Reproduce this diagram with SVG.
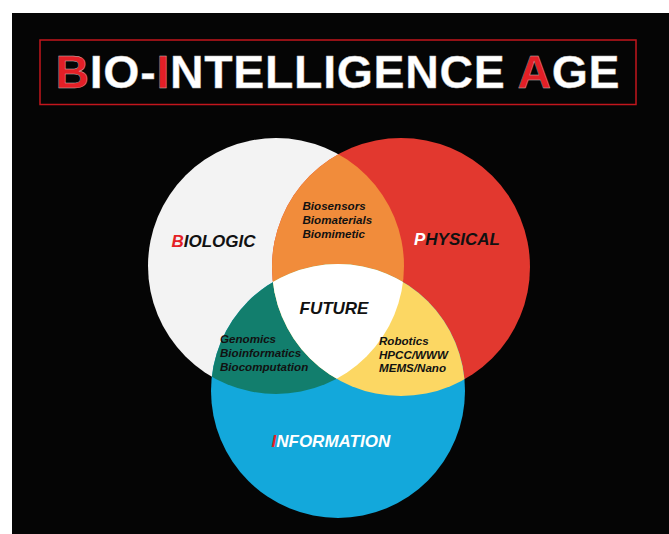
<svg xmlns="http://www.w3.org/2000/svg" width="669" height="534" viewBox="0 0 669 534">
  <defs>
    <clipPath id="clipBio"><circle cx="276" cy="266" r="128"/></clipPath>
    <clipPath id="clipPhy"><circle cx="401" cy="267" r="129"/></clipPath>
  </defs>
  <style>
    .t { font-family: "Liberation Sans", Arial, sans-serif; font-weight: bold; }
    .lbl { font-family: "Liberation Sans", Arial, sans-serif; font-weight: bold; font-style: italic; font-size: 17px; fill: #111111; }
    .sub { font-family: "Liberation Sans", Arial, sans-serif; font-weight: bold; font-style: italic; font-size: 11.6px; fill: #111111; }
    .red { fill: #e41f26; }
    .wht { fill: #ffffff; }
  </style>
  <rect x="0" y="0" width="669" height="534" fill="#ffffff"/>
  <rect x="12" y="13" width="657" height="521" fill="#050505"/>

  <g id="title">
    <rect x="40" y="40" width="596" height="64.5" fill="none" stroke="#c2161d" stroke-width="1.5"/>
    <text class="t" x="55.5" y="87.5" font-size="46.5" textLength="564" lengthAdjust="spacing" fill="#ffffff" stroke="#bbbbbb" stroke-width="0.4"><tspan class="red">B</tspan>IO-<tspan class="red">I</tspan>NTELLIGENCE <tspan class="red">A</tspan>GE</text>
  </g>

  <g id="biologic">
    <circle cx="276" cy="266" r="128" fill="#f3f3f3"/>
  </g>
  <g id="physical">
    <circle cx="401" cy="267" r="129" fill="#e2382f"/>
  </g>
  <g id="information">
    <circle cx="338" cy="391" r="127" fill="#13a8db"/>
  </g>
  <g id="bio-phy">
    <circle cx="401" cy="267" r="129" fill="#f18c3b" clip-path="url(#clipBio)"/>
  </g>
  <g id="bio-info">
    <circle cx="338" cy="391" r="127" fill="#127e6d" clip-path="url(#clipBio)"/>
  </g>
  <g id="phy-info">
    <circle cx="338" cy="391" r="127" fill="#fcd763" clip-path="url(#clipPhy)"/>
  </g>
  <g id="future">
    <g clip-path="url(#clipBio)">
      <circle cx="338" cy="391" r="127" fill="#ffffff" clip-path="url(#clipPhy)"/>
    </g>
  </g>

  <g id="labels">
    <text class="lbl" x="171.5" y="247.3"><tspan class="red">B</tspan>IOLOGIC</text>
    <text class="lbl" x="414" y="244.5"><tspan class="wht">P</tspan>HYSICAL</text>
    <text class="lbl" x="299.5" y="313.5">FUTURE</text>
    <text class="lbl" x="271.5" y="446.8"><tspan class="red">I</tspan><tspan class="wht">NFORMATION</tspan></text>
    <text class="sub" x="302.5" y="210">Biosensors</text>
    <text class="sub" x="302.5" y="223.8">Biomaterials</text>
    <text class="sub" x="302.5" y="237.6">Biomimetic</text>
    <text class="sub" x="220" y="343.3">Genomics</text>
    <text class="sub" x="220" y="357.1">Bioinformatics</text>
    <text class="sub" x="220" y="370.9">Biocomputation</text>
    <text class="sub" x="379" y="344.5">Robotics</text>
    <text class="sub" x="379" y="358.5">HPCC/WWW</text>
    <text class="sub" x="379" y="372.4">MEMS/Nano</text>
  </g>
  <g id="connectors"/>
</svg>
